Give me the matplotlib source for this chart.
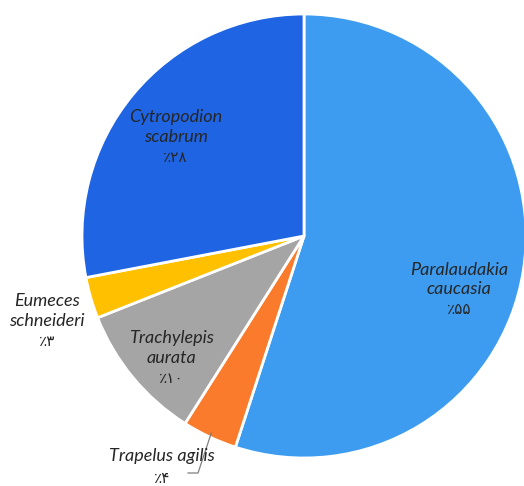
import numpy as np
import matplotlib
matplotlib.use("Agg")
import matplotlib.pyplot as plt

# slices, clockwise from 12 o'clock
species = ["Paralaudakia\ncaucasia", "Trapelus agilis", "Trachylepis\naurata",
           "Eumeces\nschneideri", "Cytropodion\nscabrum"]
shares = [55, 4, 10, 3, 28]
pct_labels = ["٪۵۵", "٪۴", "٪۱۰", "٪۳", "٪۲۸"]
colors = ["#3d9cf0", "#f97b2b", "#a5a5a5", "#ffc000", "#1e64e3"]

fig = plt.figure(figsize=(5.24, 4.86), dpi=100)
ax = fig.add_axes([0, 0, 1, 1])

cx, cy, R = 304, 250, 222
wedges, _ = ax.pie(shares, colors=colors, startangle=90, counterclock=False,
                   center=(cx, cy), radius=R, frame=True,
                   wedgeprops=dict(edgecolor="white", linewidth=2))
ax.set_xlim(0, 524)
ax.set_ylim(0, 486)
ax.set_aspect("equal")
ax.axis("off")

fonts = ["Lato", "DejaVu Sans"]
tcol = "#262626"
fs = 13

# label distance (fraction of radius) and angle tweak per slice
dist = [0.74, 1.1, 0.81, 1.22, 0.73]
tweak = [10, 0, -3, -2, -2]
cum = np.cumsum([0] + shares)
for i, name in enumerate(species):
    mid = (cum[i] + cum[i + 1]) / 2 / 100 * 360 + tweak[i]
    a = np.deg2rad(mid)
    if i == 1:
        # outside label with leader line
        tx, ty = 162, 486 - 467
        x0 = cx + R * 0.98 * np.sin(a)
        y0 = cy + R * 0.98 * np.cos(a)
        ax.plot([x0, 198, 188], [y0, 486 - 473, 486 - 473], color="#7f7f7f", lw=0.9)
        ax.text(tx, ty + 11, name, ha="center", va="center", style="italic",
                fontsize=fs, color=tcol, family=fonts)
        ax.text(tx, ty - 12, pct_labels[i], ha="center", va="center",
                fontsize=11, color=tcol, family=fonts)
        continue
    tx = cx + R * dist[i] * np.sin(a)
    ty = cy + R * dist[i] * np.cos(a)
    ax.text(tx, ty + 10, name, ha="center", va="center", style="italic",
            fontsize=fs, color=tcol, family=fonts, linespacing=1.3)
    ax.text(tx, ty - 21, pct_labels[i], ha="center", va="center",
            fontsize=11, color=tcol, family=fonts)

fig.savefig("out.png", dpi=100)
